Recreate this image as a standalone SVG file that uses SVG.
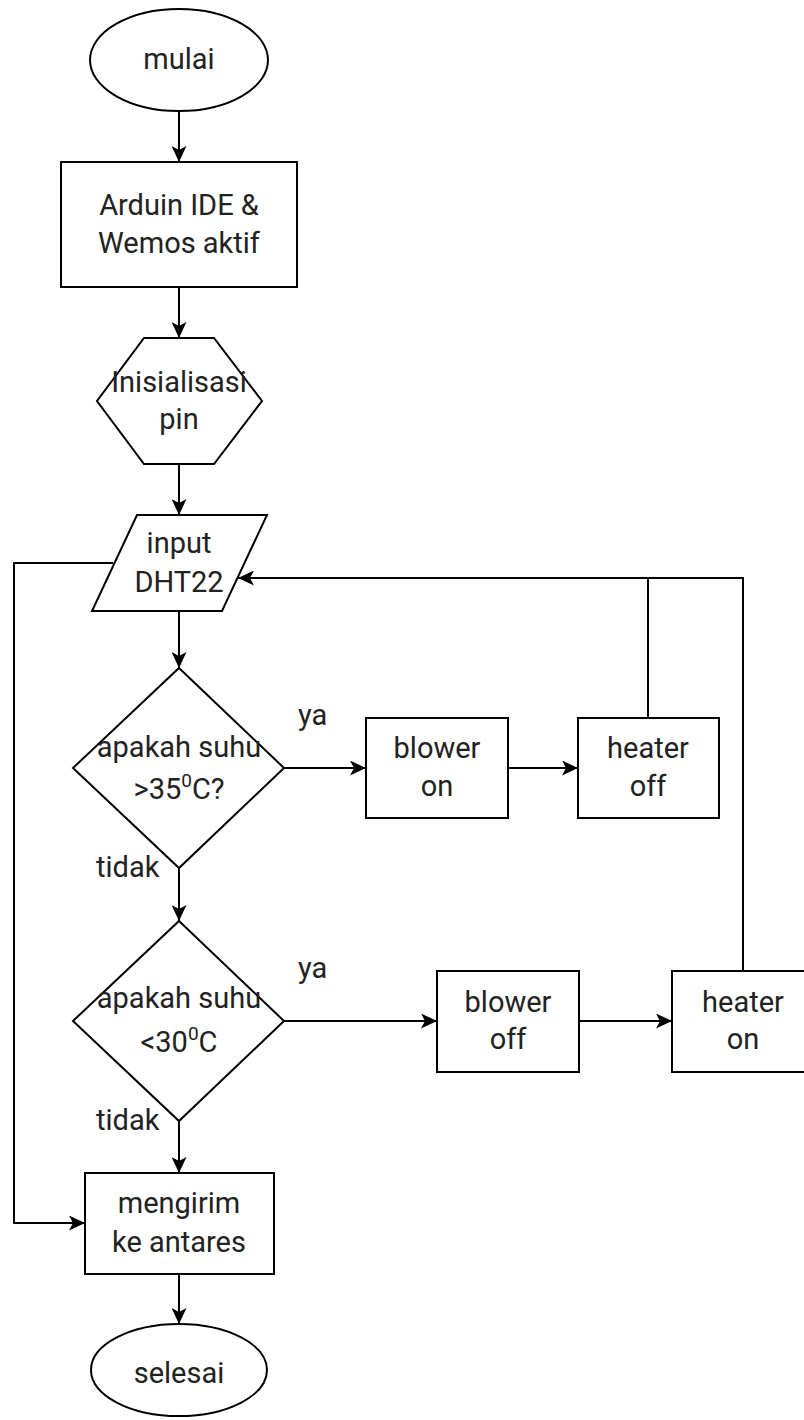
<svg xmlns="http://www.w3.org/2000/svg" width="804" height="1420" viewBox="0 0 804 1420">
<defs>
<marker id="arr" markerUnits="userSpaceOnUse" markerWidth="16" markerHeight="15" refX="16" refY="7.5" orient="auto" viewBox="0 0 16 15">
<path d="M0,0 L16,7.5 L0,15 L4,7.5 z" fill="#000"/>
</marker>
<style>
.s{fill:#fff;stroke:#000;stroke-width:2}
.c{fill:none;stroke:#000;stroke-width:2}
.a{marker-end:url(#arr)}
text{font-family:Roboto,"Liberation Sans",Arial,sans-serif;font-size:29px;fill:#222;text-anchor:middle}
.l{text-anchor:start}
</style>
</defs>
<rect width="804" height="1420" fill="#fff"/>
<g id="connectors">
<path class="c a" d="M179,111 L179,162"/>
<path class="c a" d="M179,287 L179,338"/>
<path class="c a" d="M179,464 L179,515"/>
<path class="c a" d="M179,611 L179,668"/>
<path class="c a" d="M179,868 L179,921"/>
<path class="c a" d="M179,1121 L179,1173"/>
<path class="c a" d="M179,1274 L179,1324"/>
<path class="c a" d="M284,768 L366,768"/>
<path class="c a" d="M508,768 L578,768"/>
<path class="c a" d="M284,1021 L437,1021"/>
<path class="c a" d="M579,1021 L672,1021"/>
<path class="c a" d="M648,718 L648,578 L238,578"/>
<path class="c" d="M743,971 L743,578 L648,578"/>
<path class="c a" d="M113,563 L14,563 L14,1223 L85,1223"/>
</g>
<g id="mulai">
<ellipse class="s" cx="179" cy="60" rx="89" ry="51"/>
<text x="179" y="69">mulai</text>
</g>
<g id="arduino">
<rect class="s" x="61" y="162" width="236" height="125"/>
<text x="179" y="215">Arduin IDE &amp;</text>
<text x="179" y="253">Wemos aktif</text>
</g>
<g id="inisialisasi">
<polygon class="s" points="144,338 214,338 262,401 214,464 144,464 97,401"/>
<text x="179" y="392">Inisialisasi</text>
<text x="179" y="429">pin</text>
</g>
<g id="input">
<polygon class="s" points="137,515 267,515 222,611 92,611"/>
<text x="179" y="553">input</text>
<text x="179" y="592">DHT22</text>
</g>
<g id="cek1">
<polygon class="s" points="179,668 284,768 179,868 73,768"/>
<text x="179" y="757">apakah suhu</text>
<text x="179" y="799">&gt;35<tspan font-size="19" dy="-12">0</tspan><tspan dy="12">C?</tspan></text>
</g>
<g id="blower-on">
<rect class="s" x="366" y="718" width="142" height="100"/>
<text x="437" y="758">blower</text>
<text x="437" y="796">on</text>
</g>
<g id="heater-off">
<rect class="s" x="578" y="718" width="141" height="100"/>
<text x="648" y="758">heater</text>
<text x="648" y="796">off</text>
</g>
<g id="cek2">
<polygon class="s" points="179,921 284,1021 179,1121 73,1021"/>
<text x="179" y="1008">apakah suhu</text>
<text x="179" y="1052">&lt;30<tspan font-size="19" dy="-12">0</tspan><tspan dy="12">C</tspan></text>
</g>
<g id="blower-off">
<rect class="s" x="437" y="971" width="142" height="101"/>
<text x="508" y="1012">blower</text>
<text x="508" y="1049">off</text>
</g>
<g id="heater-on">
<rect class="s" x="672" y="971" width="142" height="101"/>
<text x="743" y="1012">heater</text>
<text x="743" y="1049">on</text>
</g>
<g id="mengirim">
<rect class="s" x="85" y="1173" width="189" height="101"/>
<text x="179" y="1213">mengirim</text>
<text x="179" y="1252">ke antares</text>
</g>
<g id="selesai">
<ellipse class="s" cx="179" cy="1370" rx="88" ry="46"/>
<text x="179" y="1383">selesai</text>
</g>
<g id="labels">
<text class="l" x="298" y="725">ya</text>
<text class="l" x="96" y="877">tidak</text>
<text class="l" x="298" y="978">ya</text>
<text class="l" x="96" y="1130">tidak</text>
</g>
</svg>
